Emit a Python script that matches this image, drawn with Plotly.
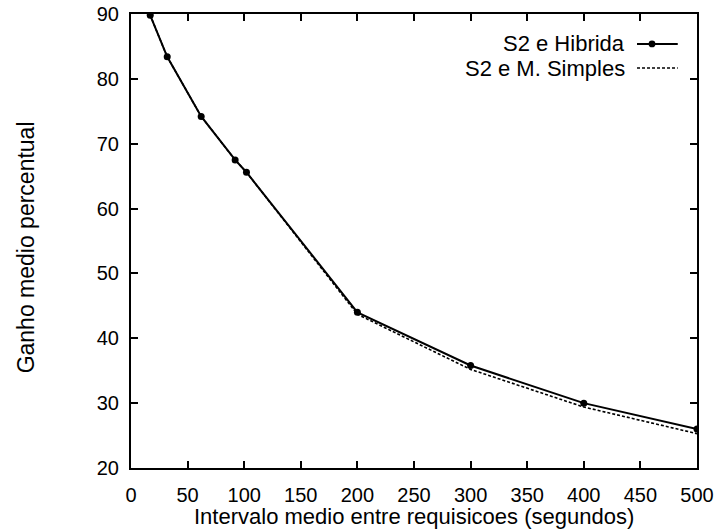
import plotly.graph_objects as go

x_vals = [17, 32, 62, 92, 102, 200, 300, 400, 500]
hibrida = [89.8, 83.4, 74.2, 67.5, 65.6, 44.0, 35.8, 30.0, 26.0]
simples = [89.8, 83.4, 74.2, 67.5, 65.6, 43.7, 35.2, 29.4, 25.3]
series_names = ["S2 e Hibrida", "S2 e M. Simples"]
x_ticks = list(range(0, 501, 50))
y_ticks = list(range(20, 91, 10))
x_title = "Intervalo medio entre requisicoes (segundos)"
y_title = "Ganho medio percentual"

FONT = "Liberation Sans, Arial, Helvetica, sans-serif"

fig = go.Figure()
fig.add_trace(go.Scatter(x=x_vals, y=simples, mode="lines", name=series_names[1],
                         line=dict(color="black", width=1.6, dash="3px,2px"),
                         showlegend=False, cliponaxis=True))
fig.add_trace(go.Scatter(x=x_vals, y=hibrida, mode="lines+markers", name=series_names[0],
                         line=dict(color="black", width=2),
                         marker=dict(color="black", size=7, symbol="circle"),
                         showlegend=False, cliponaxis=True))

# legend (gnuplot style: text then sample on the right)
leg_x_text = 0.876
leg_y = [0.934, 0.881]
for name, yy in zip(series_names, leg_y):
    fig.add_annotation(xref="paper", yref="paper", x=leg_x_text, y=yy, text=name,
                       showarrow=False, xanchor="right", yanchor="middle",
                       font=dict(family=FONT, size=22, color="black"))
fig.add_shape(type="line", xref="paper", yref="paper", x0=0.894, x1=0.966,
              y0=leg_y[0], y1=leg_y[0], line=dict(color="black", width=2))
fig.add_shape(type="circle", xref="paper", yref="paper",
              x0=0.9205 - 0.006, x1=0.9205 + 0.006,
              y0=leg_y[0] - 0.0075, y1=leg_y[0] + 0.0075,
              fillcolor="black", line=dict(color="black", width=0))
fig.add_shape(type="line", xref="paper", yref="paper", x0=0.894, x1=0.966,
              y0=leg_y[1], y1=leg_y[1], line=dict(color="black", width=1.6, dash="3px,2px"))

# axis titles
fig.add_annotation(xref="paper", yref="paper", x=0.5, y=-0.106, text=x_title,
                   showarrow=False, xanchor="center", yanchor="middle",
                   font=dict(family=FONT, size=22, color="black"))
fig.add_annotation(xref="paper", yref="paper", x=-0.1855, y=0.486, text=y_title,
                   showarrow=False, xanchor="center", yanchor="middle", textangle=-90,
                   font=dict(family=FONT, size=23, color="black"))

axis_common = dict(showline=True, linecolor="black", linewidth=2, mirror="ticks",
                   ticks="inside", ticklen=7, tickwidth=1.5, tickcolor="black",
                   showgrid=False, zeroline=False, automargin=False,
                   tickfont=dict(family=FONT, size=20, color="black"))
fig.update_xaxes(range=[0, 500], tickvals=x_ticks, ticklabelstandoff=8, **axis_common)
fig.update_yaxes(range=[20, 90], tickvals=y_ticks, ticklabelstandoff=6, **axis_common)
fig.update_layout(width=715, height=532, paper_bgcolor="white", plot_bgcolor="white",
                  margin=dict(l=131, r=18, t=14, b=64), showlegend=False)
fig.write_html("out.html")
